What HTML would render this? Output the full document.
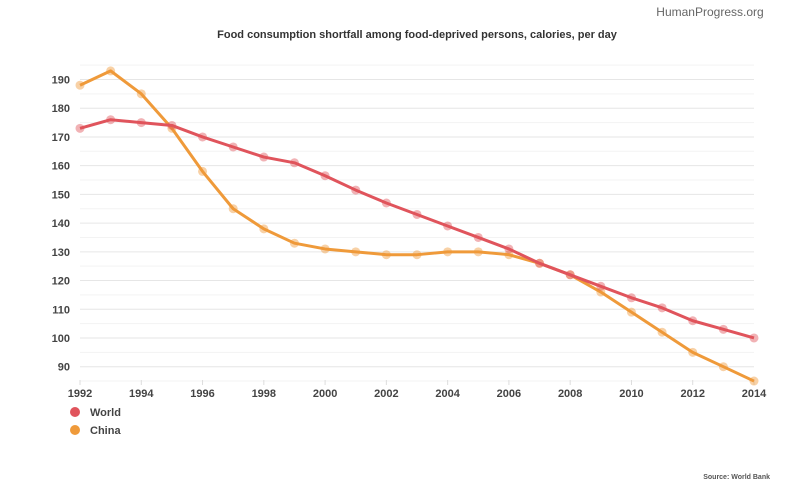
<!DOCTYPE html>
<html><head><meta charset="utf-8"><style>
body{margin:0;background:#fff;font-family:"Liberation Sans",sans-serif;}
svg text{font-family:"Liberation Sans",sans-serif;}
</style></head><body>
<svg id="chart" width="790" height="489" viewBox="0 0 790 489">
<text x="710" y="16" font-size="12" fill="#666" text-anchor="middle">HumanProgress.org</text>
<text x="417" y="38" font-size="11" font-weight="bold" fill="#333" text-anchor="middle">Food consumption shortfall among food-deprived persons, calories, per day</text>
<g id="grid"></g><g id="axes"></g><g id="series"></g>
<g>
<g><circle cx="75" cy="412" r="5" fill="#e0545c"/><text x="90" y="416" font-size="11" font-weight="bold" fill="#444">World</text></g>
<g><circle cx="75" cy="430" r="5" fill="#ef9a3a"/><text x="90" y="434" font-size="11" font-weight="bold" fill="#444">China</text></g>
</g>
<text x="770" y="479" font-size="7" font-weight="bold" fill="#555" text-anchor="end">Source: World Bank</text>
</svg>
<script>
const years=[1992,1993,1994,1995,1996,1997,1998,1999,2000,2001,2002,2003,2004,2005,2006,2007,2008,2009,2010,2011,2012,2013,2014];
const worldValues=[173,176,175,174,170,166.5,163,161,156.5,151.5,147,143,139,135,131,126,122,118,114,110.5,106,103,100];
const chinaValues=[188,193,185,173,158,145,138,133,131,130,129,129,130,130,129,126,122,116,109,102,95,90,85];
const yTicks=[90,100,110,120,130,140,150,160,170,180,190];
const xTicks=[1992,1994,1996,1998,2000,2002,2004,2006,2008,2010,2012,2014];
const NS="http://www.w3.org/2000/svg";
const x=v=>80+(v-1992)*(674/22);
const y=v=>366.7-(v-90)*2.872;
function mk(t,a,p){const e=document.createElementNS(NS,t);for(const k in a)e.setAttribute(k,a[k]);p.appendChild(e);return e;}
const grid=document.getElementById('grid'),axes=document.getElementById('axes'),series=document.getElementById('series');
for(let v=85;v<=195;v+=5){const l=mk('line',{x1:80,x2:754,y1:y(v),y2:y(v),stroke:v%10===0?'#e6e6e6':'#f3f3f3','stroke-width':1},grid);

}
yTicks.forEach(v=>{const t=mk('text',{x:70,y:y(v)+4,'font-size':11,'font-weight':'bold',fill:'#444','text-anchor':'end'},axes);t.textContent=v;

});
xTicks.forEach(v=>{const t=mk('text',{x:x(v),y:397,'font-size':11,'font-weight':'bold',fill:'#444','text-anchor':'middle'},axes);t.textContent=v;


const k=mk('line',{x1:x(v),x2:x(v),y1:380,y2:385,stroke:'#ddd'},axes);

});
function draw(vals,col,name){
const p=mk('polyline',{points:vals.map((v,i)=>x(years[i])+','+y(v)).join(' '),fill:'none',stroke:col,'stroke-width':3,'stroke-linejoin':'round'},series);


vals.forEach((v,i)=>{const c=mk('circle',{cx:x(years[i]),cy:y(v),r:4.5,fill:col,'fill-opacity':0.45},series);

});}
draw(chinaValues,'#ef9a3a','china');
draw(worldValues,'#e0545c','world');
</script>
</body></html>
